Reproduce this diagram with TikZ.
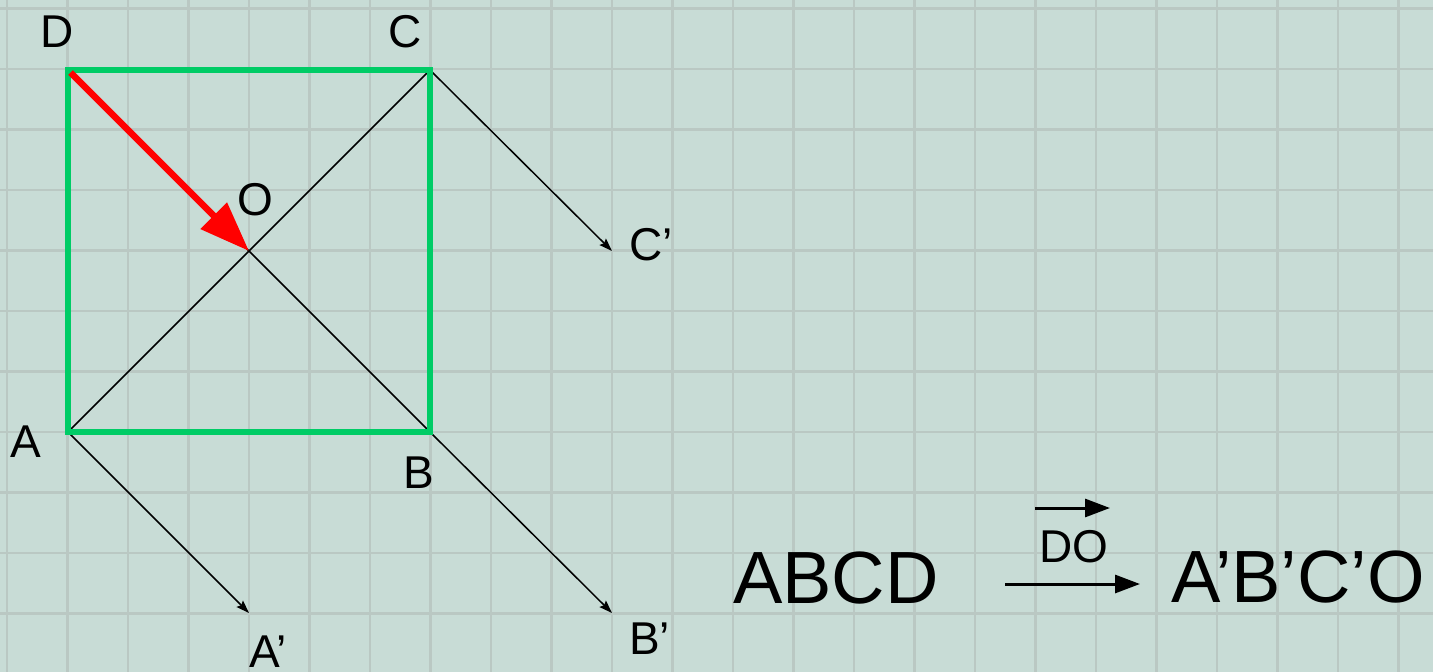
\documentclass[tikz,border=0pt]{standalone}
\usepackage{fontspec}
\setmainfont{Liberation Sans}
\usetikzlibrary{arrows.meta}
\definecolor{bgc}{RGB}{200,220,214}
\definecolor{gridc}{RGB}{186,200,195}
\definecolor{sqgreen}{RGB}{0,204,102}
\definecolor{vecred}{RGB}{255,0,0}
\begin{document}
\begin{tikzpicture}[x=1pt,y=-1pt,
  lbl/.style={anchor=base,inner sep=0pt,font=\fontsize{46}{52}\selectfont},
  big/.style={anchor=base west,inner sep=0pt,font=\fontsize{74}{80}\selectfont},
  thin/.style={line width=1.5pt,black},
  trans/.style={line width=1.5pt,black,-{Stealth[length=13pt,width=9pt,inset=2pt]}},
  side/.style={line width=5.5pt,sqgreen,line join=miter},
  vec/.style={line width=6.5pt,vecred,-{Triangle[length=50pt,width=36pt]}},
  mapar/.style={line width=3pt,black,-{Triangle[length=25pt,width=18pt]}}]
\fill[bgc] (0,0) rectangle (1433,672);
\useasboundingbox (0,0) rectangle (1433,672);
\foreach \k in {0,...,23}{\draw[gridc,line width=2.2pt] ({7+60.5*\k},0) -- ({7+60.5*\k},672);}
\foreach \k in {0,...,10}{\draw[gridc,line width=2.2pt] (0,{8.5+60.5*\k}) -- (1433,{8.5+60.5*\k});}
% points
\coordinate (A) at (68,432);
\coordinate (B) at (430,432);
\coordinate (C) at (430,70);
\coordinate (D) at (68,70);
\coordinate (O) at (249,251);
\coordinate (A1) at (249,613);
\coordinate (B1) at (612,613);
\coordinate (C1) at (612,251);
% diagonals
\draw[thin] (A) -- (C);
\draw[thin] (D) -- (B);
% translation arrows
\draw[trans] (A) -- (A1);
\draw[trans] (B) -- (B1);
\draw[trans] (C) -- (C1);
% square
\draw[side] (A) -- (B) -- (C) -- (D) -- cycle;
% vector DO
\draw[vec] ([shift={(2.5,2.5)}]D) -- (O);
% labels
\node[lbl] (lD) at (57,47) {D};
\node[lbl] (lC) at (405,47) {C};
\node[lbl] (lO) at (255,215) {O};
\node[lbl,anchor=base west] (lC1) at (629,260) {C’};
\node[lbl] (lA) at (26,457) {A};
\node[lbl] (lB) at (419,488) {B};
\node[lbl,anchor=base west] (lA1) at (249,667) {A’};
\node[lbl,anchor=base west] (lB1) at (629,654) {B’};
% mapping
\node[big] (src) at (733,603) {ABCD};
\node[big] (dst) at (1171,602) {A’B’C’O};
\coordinate (m1) at (1005,584);
\coordinate (m2) at (1140,584);
\draw[mapar] (m1) -- (m2);
\node[lbl,anchor=base west] (lDO) at (1039,562) {DO};
\coordinate (v1) at (1035,508);
\coordinate (v2) at (1110,508);
\draw[mapar] (v1) -- (v2);
\end{tikzpicture}
\end{document}
